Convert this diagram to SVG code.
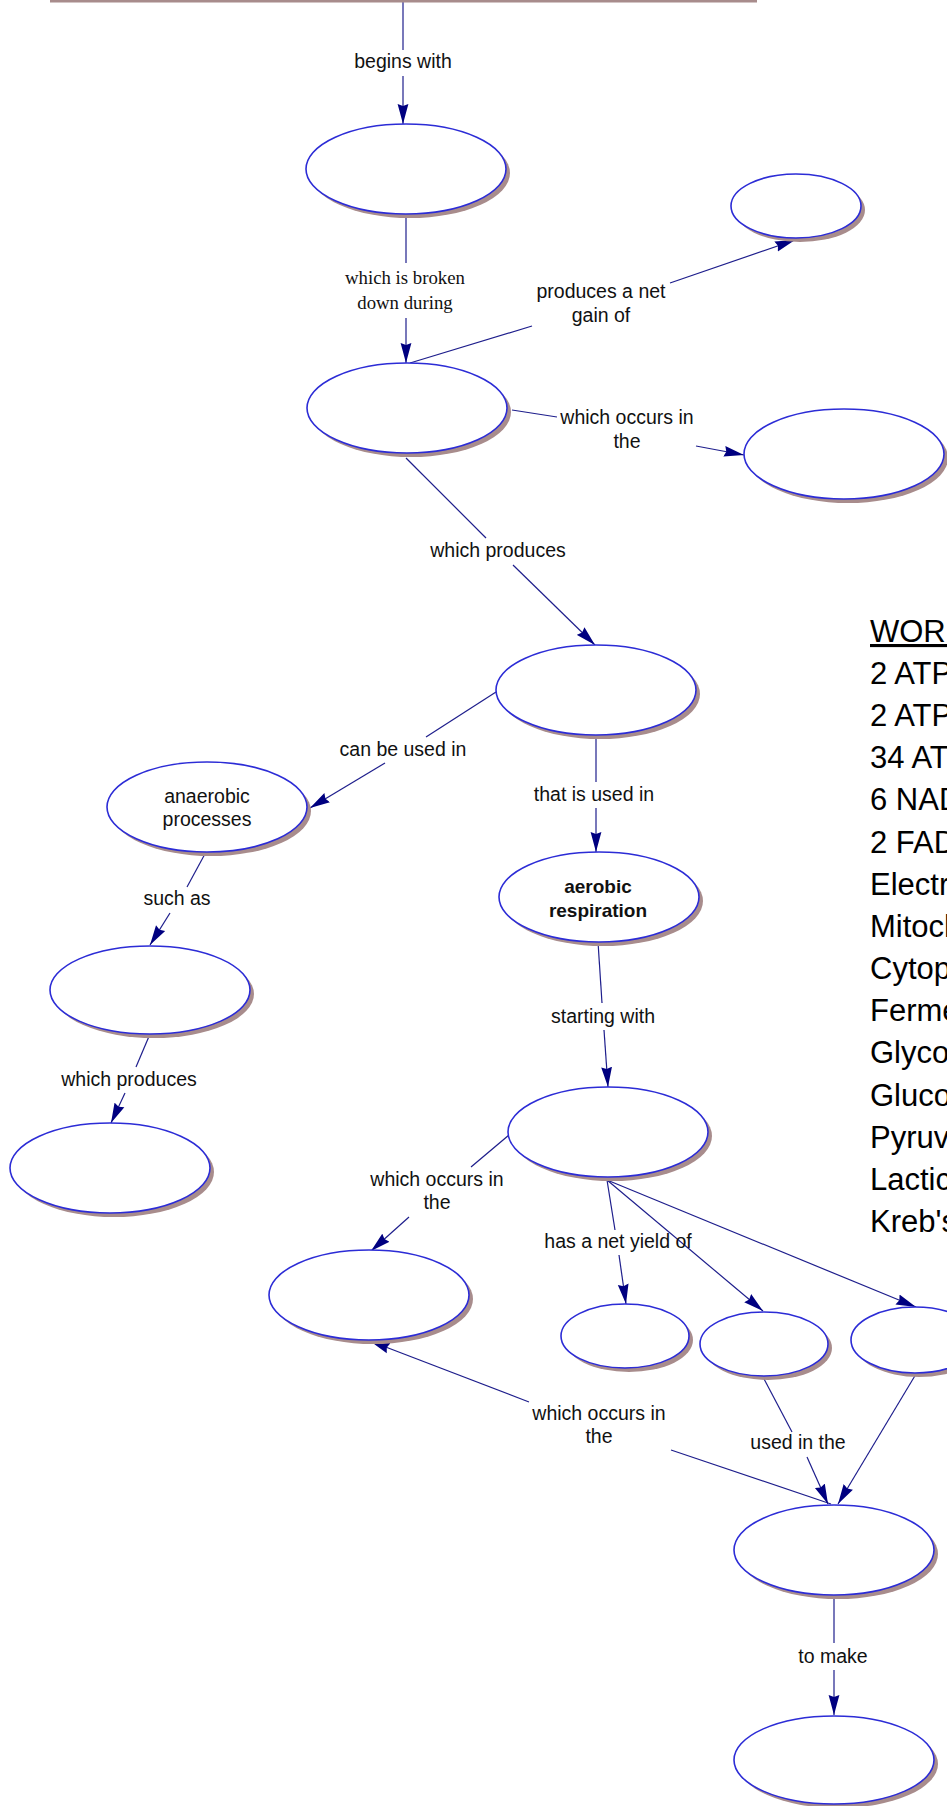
<svg xmlns="http://www.w3.org/2000/svg" width="947" height="1806" viewBox="0 0 947 1806">
<style>
.sh{fill:#a88c8c;stroke:none}
.el{fill:#ffffff;stroke:#2c2cd6;stroke-width:1.6}
.ln{fill:none;stroke:#1e1e8c;stroke-width:1.2}
.lbl{font-family:"Liberation Sans",Arial,sans-serif;font-size:19.5px;fill:#111111;text-anchor:middle}
.ser{font-family:"Liberation Serif","Times New Roman",serif;font-size:18.8px;fill:#111111;text-anchor:middle}
.bold{font-weight:bold;font-size:19px}
.wb{font-family:"Liberation Sans",Arial,sans-serif;font-size:31px;fill:#000000}
</style>
<defs>
<marker id="arr" markerWidth="21" markerHeight="12" refX="20" refY="6" orient="auto" markerUnits="userSpaceOnUse">
<path d="M0,0.6 L20,6 L0,11.4 L2,6 Z" fill="#000080"/>
</marker>
</defs>
<rect width="947" height="1806" fill="#ffffff"/>

<g id="connectors">
<path class="ln" d="M403,2 L403,50"/>
<path class="ln" d="M403,76 L403,124" marker-end="url(#arr)"/>
<path class="ln" d="M406,214 L406,263"/>
<path class="ln" d="M406,318 L406,363" marker-end="url(#arr)"/>
<path class="ln" d="M410,363 L532,326"/>
<path class="ln" d="M670,283 L795,240" marker-end="url(#arr)"/>
<path class="ln" d="M512,410 L557,417"/>
<path class="ln" d="M696,446 L744,455" marker-end="url(#arr)"/>
<path class="ln" d="M406,458 L486,538"/>
<path class="ln" d="M513,565 L595,645" marker-end="url(#arr)"/>
<path class="ln" d="M496,692 L426,737"/>
<path class="ln" d="M385,763 L310,808" marker-end="url(#arr)"/>
<path class="ln" d="M596,736 L596,782"/>
<path class="ln" d="M596,808 L596,852" marker-end="url(#arr)"/>
<path class="ln" d="M206,852 L187,887"/>
<path class="ln" d="M170,913 L150,945" marker-end="url(#arr)"/>
<path class="ln" d="M150,1034 L136,1067"/>
<path class="ln" d="M125,1093 L111,1123" marker-end="url(#arr)"/>
<path class="ln" d="M598,942 L602,1003"/>
<path class="ln" d="M604,1030 L608,1087" marker-end="url(#arr)"/>
<path class="ln" d="M509,1135 L471,1167"/>
<path class="ln" d="M409,1217 L371,1251" marker-end="url(#arr)"/>
<path class="ln" d="M607,1180 L615,1230"/>
<path class="ln" d="M619,1255 L626,1304" marker-end="url(#arr)"/>
<path class="ln" d="M607,1180 L763,1311" marker-end="url(#arr)"/>
<path class="ln" d="M607,1180 L916,1307" marker-end="url(#arr)"/>
<path class="ln" d="M831,1504 L671,1450"/>
<path class="ln" d="M529,1402 L370,1341" marker-end="url(#arr)"/>
<path class="ln" d="M763,1377 L792,1432"/>
<path class="ln" d="M807,1457 L828,1504" marker-end="url(#arr)"/>
<path class="ln" d="M916,1374 L838,1504" marker-end="url(#arr)"/>
<path class="ln" d="M834,1596 L834,1643"/>
<path class="ln" d="M834,1670 L834,1715" marker-end="url(#arr)"/>

<text class="lbl" x="403" y="68">begins with</text>
<text class="ser" x="405" y="284">which is broken</text>
<text class="ser" x="405" y="309">down during</text>
<text class="lbl" x="601" y="298">produces a net</text>
<text class="lbl" x="601" y="322">gain of</text>
<text class="lbl" x="627" y="424">which occurs in</text>
<text class="lbl" x="627" y="448">the</text>
<text class="lbl" x="498" y="557">which produces</text>
<text class="lbl" x="403" y="756">can be used in</text>
<text class="lbl" x="594" y="801">that is used in</text>
<text class="lbl" x="177" y="905">such as</text>
<text class="lbl" x="129" y="1086">which produces</text>
<text class="lbl" x="603" y="1023">starting with</text>
<text class="lbl" x="437" y="1186">which occurs in</text>
<text class="lbl" x="437" y="1209">the</text>
<text class="lbl" x="618" y="1248">has a net yield of</text>
<text class="lbl" x="599" y="1420">which occurs in</text>
<text class="lbl" x="599" y="1443">the</text>
<text class="lbl" x="798" y="1449">used in the</text>
<text class="lbl" x="833" y="1663">to make</text>
</g>

<g id="n-top"><rect class="sh" x="50" y="-60" width="707" height="62.5"/><rect x="46" y="-64" width="707" height="63" fill="#ffffff" stroke="#2c2cd6" stroke-width="1.6"/></g>
<g id="n-a"><ellipse class="sh" cx="410" cy="173" rx="100" ry="45"/><ellipse class="el" cx="406" cy="169" rx="100" ry="45"/></g>
<g id="n-b"><ellipse class="sh" cx="800" cy="210" rx="65" ry="32"/><ellipse class="el" cx="796" cy="206" rx="65" ry="32"/></g>
<g id="n-c"><ellipse class="sh" cx="411" cy="412" rx="100" ry="45"/><ellipse class="el" cx="407" cy="408" rx="100" ry="45"/></g>
<g id="n-d"><ellipse class="sh" cx="848" cy="458" rx="100" ry="45"/><ellipse class="el" cx="844" cy="454" rx="100" ry="45"/></g>
<g id="n-e"><ellipse class="sh" cx="600" cy="694" rx="100" ry="45"/><ellipse class="el" cx="596" cy="690" rx="100" ry="45"/></g>
<g id="n-anaerobic"><ellipse class="sh" cx="211" cy="811" rx="100" ry="45"/><ellipse class="el" cx="207" cy="807" rx="100" ry="45"/>
<text class="lbl" x="207" y="803">anaerobic</text><text class="lbl" x="207" y="826">processes</text></g>
<g id="n-aerobic"><ellipse class="sh" cx="603" cy="901" rx="100" ry="45"/><ellipse class="el" cx="599" cy="897" rx="100" ry="45"/>
<text class="lbl bold" x="598" y="893">aerobic</text><text class="lbl bold" x="598" y="917">respiration</text></g>
<g id="n-h"><ellipse class="sh" cx="154" cy="994" rx="100" ry="44"/><ellipse class="el" cx="150" cy="990" rx="100" ry="44"/></g>
<g id="n-i"><ellipse class="sh" cx="114" cy="1172" rx="100" ry="45"/><ellipse class="el" cx="110" cy="1168" rx="100" ry="45"/></g>
<g id="n-j"><ellipse class="sh" cx="612" cy="1136" rx="100" ry="45"/><ellipse class="el" cx="608" cy="1132" rx="100" ry="45"/></g>
<g id="n-k"><ellipse class="sh" cx="373" cy="1299" rx="100" ry="45"/><ellipse class="el" cx="369" cy="1295" rx="100" ry="45"/></g>
<g id="n-l"><ellipse class="sh" cx="629" cy="1340" rx="64" ry="32"/><ellipse class="el" cx="625" cy="1336" rx="64" ry="32"/></g>
<g id="n-m"><ellipse class="sh" cx="768" cy="1348" rx="64" ry="32"/><ellipse class="el" cx="764" cy="1344" rx="64" ry="32"/></g>
<g id="n-n"><ellipse class="sh" cx="919" cy="1344" rx="64" ry="33"/><ellipse class="el" cx="915" cy="1340" rx="64" ry="33"/></g>
<g id="n-p"><ellipse class="sh" cx="838" cy="1554" rx="100" ry="45"/><ellipse class="el" cx="834" cy="1550" rx="100" ry="45"/></g>
<g id="n-q"><ellipse class="sh" cx="838" cy="1764" rx="100" ry="44"/><ellipse class="el" cx="834" cy="1760" rx="100" ry="44"/></g>

<g id="word-bank">
<text class="wb" x="870" y="642" text-decoration="underline">WORD BANK</text>
<text class="wb" x="870" y="684">2 ATP</text>
<text class="wb" x="870" y="726">2 ATP</text>
<text class="wb" x="870" y="768">34 ATP</text>
<text class="wb" x="870" y="810">6 NADH</text>
<text class="wb" x="870" y="853">2 FADH2</text>
<text class="wb" x="870" y="895">Electron Transport Chain</text>
<text class="wb" x="870" y="937">Mitochondria</text>
<text class="wb" x="870" y="979">Cytoplasm</text>
<text class="wb" x="870" y="1021">Fermentation</text>
<text class="wb" x="870" y="1063">Glycolysis</text>
<text class="wb" x="870" y="1106">Glucose</text>
<text class="wb" x="870" y="1148">Pyruvic Acid</text>
<text class="wb" x="870" y="1190">Lactic Acid</text>
<text class="wb" x="870" y="1232">Kreb's Cycle</text>
</g>
</svg>
